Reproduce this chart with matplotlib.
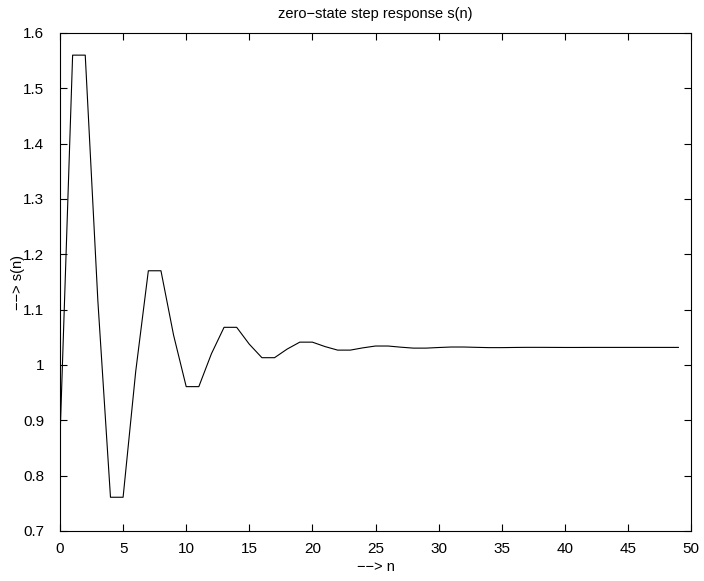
import numpy as np
import matplotlib
matplotlib.use('Agg')
import matplotlib.pyplot as plt

plt.rcParams['font.family'] = ['Liberation Sans', 'DejaVu Sans']

# sample index and step response values
n = np.arange(0, 50)
s = [0.867, 1.560, 1.560, 1.116, 0.761, 0.761, 0.9885, 1.1703, 1.1703, 1.0539,
     0.9609, 0.9609, 1.0204, 1.0681, 1.0681, 1.0376, 1.0132, 1.0132, 1.0288, 1.0413,
     1.0413, 1.0333, 1.0269, 1.0269, 1.0310, 1.0343, 1.0343, 1.0322, 1.0305, 1.0305,
     1.0316, 1.0325, 1.0325, 1.0319, 1.0314, 1.0314, 1.0317, 1.0319, 1.0319, 1.0318,
     1.0317, 1.0317, 1.0318, 1.0318, 1.0318, 1.0318, 1.0318, 1.0318, 1.0318, 1.0318]

xticks = np.arange(0, 51, 5)
yticks = [0.7, 0.8, 0.9, 1.0, 1.1, 1.2, 1.3, 1.4, 1.5, 1.6]
yticklabels = ['0.7', '0.8', '0.9', '1', '1.1', '1.2', '1.3', '1.4', '1.5', '1.6']

fig = plt.figure(figsize=(7.04, 5.81), dpi=100)
ax = fig.add_axes([60/704, 1 - 531/581, 631/704, 498/581])

ax.plot(n, s, color='black', linewidth=0.8)

ax.set_xlim(0, 50)
ax.set_ylim(0.7, 1.6)
ax.set_xticks(xticks)
ax.set_yticks(yticks)
ax.set_yticklabels(yticklabels)
ax.tick_params(direction='in', top=True, right=True, labelsize=11, length=5, width=0.8)
ax.tick_params(axis='x', pad=8)
ax.tick_params(axis='y', pad=11.5)
for sp in ax.spines.values():
    sp.set_linewidth(0.8)

ax.set_title('zero\u2212state step response s(n)', fontsize=10.5, pad=11)
ax.set_xlabel('\u2212\u2212> n', fontsize=10.5, labelpad=3)
ax.set_ylabel('\u2212\u2212> s(n)', fontsize=10.5, labelpad=-1.5)

plt.savefig('out.png', dpi=100)
